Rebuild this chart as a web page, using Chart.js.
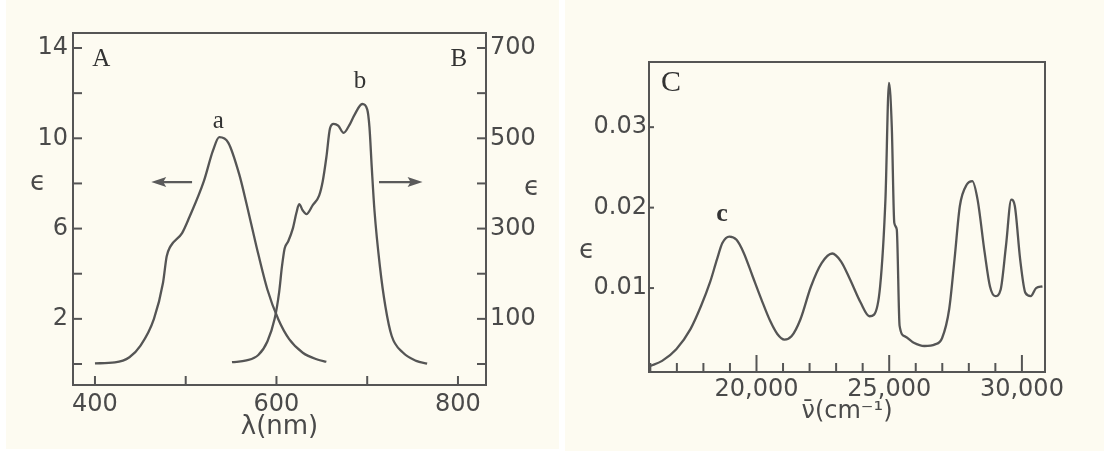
<!DOCTYPE html>
<html>
<head>
<meta charset="utf-8">
<script src="https://cdn.jsdelivr.net/npm/chart.js@4.4.0/dist/chart.umd.min.js"></script>
<style>
  html, body { margin: 0; padding: 0; background: #ffffff; }
  body { width: 1104px; height: 451px; position: relative; overflow: hidden; }
  .panel { position: absolute; top: 0; background: #fdfbf1; }
  #pLeft { left: 6px; width: 553px; height: 449px; }
  #pRight { left: 565px; width: 539px; height: 451px; }
  canvas { display: block; }
</style>
</head>
<body>
<div class="panel" id="pLeft"><canvas id="chartAB" width="553" height="451"></canvas></div>
<div class="panel" id="pRight"><canvas id="chartC" width="539" height="451"></canvas></div>
<script>
// panel A/B : wavelength (nm) vs epsilon
const lambdaA = [400, 422, 438, 450, 465, 475, 479, 483, 496, 504, 520, 530, 537, 547, 559, 567, 578, 590, 602, 614, 629, 645, 655];
const epsA    = [0.03, 0.07, 0.3, 0.8, 2.0, 3.6, 4.76, 5.2, 5.8, 6.5, 8.1, 9.45, 10.05, 9.8, 8.4, 7.1, 5.2, 3.3, 1.98, 1.1, 0.5, 0.2, 0.1];

const lambdaB = [551, 567, 580, 590, 598, 603, 606, 609, 613, 618, 622, 625, 629, 633, 640, 647, 651, 655, 659, 663, 668, 674, 680, 686, 694.5, 700, 702.5, 705, 708, 714, 720, 727, 739, 754, 766];
const epsB    = [4, 8, 20, 50, 100, 160, 215, 256, 272, 300, 335, 354, 340, 332, 352, 373, 405, 458, 522, 532, 528, 512, 528, 552, 576, 564, 524, 436, 340, 216, 128, 62, 26, 7, 1];

const ticksLeftY  = [0, 2, 4, 6, 8, 10, 12, 14];
const labelsLeftY = [2, 6, 10, 14];
const ticksRightY = [0, 100, 200, 300, 400, 500, 600, 700];
const labelsRightY = [100, 300, 500, 700];
const ticksLambda = [400, 500, 600, 700, 800];
const labelsLambda = [400, 600, 800];

// panel C : wavenumber (cm-1) vs epsilon
const nuC  = [15977, 16444, 16978, 17512, 17913, 18247, 18514, 18714, 18981, 19248, 19516, 19850, 20184, 20518, 20785, 21052, 21319, 21653, 22053, 22454, 22854, 23188, 23522, 23923, 24257, 24431, 24658, 24858, 24992, 25098, 25192, 25285, 25392, 25592, 25926, 26327, 26727, 26994, 27261, 27462, 27662, 27929, 28130, 28330, 28597, 28797, 28998, 29198, 29398, 29599, 29733, 29933, 30133, 30334, 30534, 30774];
const epsC = [0.0003, 0.00095, 0.0024, 0.0049, 0.0078, 0.0107, 0.0136, 0.0156, 0.0164, 0.016, 0.0144, 0.0115, 0.0086, 0.0059, 0.0043, 0.0036, 0.004, 0.0061, 0.0102, 0.0131, 0.0143, 0.0133, 0.0111, 0.0082, 0.0065, 0.0067, 0.0102, 0.021, 0.0355, 0.030, 0.0181, 0.0173, 0.0053, 0.004, 0.0032, 0.0028, 0.003, 0.0038, 0.0074, 0.0136, 0.0202, 0.0229, 0.0233, 0.021, 0.0144, 0.0102, 0.009, 0.0098, 0.0152, 0.021, 0.0202, 0.0136, 0.0094, 0.009, 0.01, 0.0102];

const ticksNu  = [16000, 17000, 18000, 19000, 20000, 21000, 22000, 23000, 24000, 25000, 26000, 27000, 28000, 29000, 30000];
const labelsNu = [20000, 25000, 30000];
const ticksEpsC = [0.01, 0.02, 0.03];

const ink = '#555555';
const textInk = '#4a4a4a';
const tickFont = { family: 'DejaVu Sans', size: 24 };
const serif = 'Liberation Serif';

function pts(xs, ys) { return xs.map((x, i) => ({ x: x, y: ys[i] })); }
function setTicks(vals) { return s => { s.ticks = vals.map(v => ({ value: v })); }; }
function fixW(w) { return s => { s.width = w; }; }
function fixH(h) { return s => { s.height = h; }; }

function drawFrame(chart, specs) {
  const { ctx, chartArea: a } = chart;
  ctx.save();
  ctx.strokeStyle = ink;
  ctx.lineWidth = 2;
  ctx.strokeRect(a.left, a.top, a.right - a.left, a.bottom - a.top);
  specs.forEach(sp => {
    const sc = chart.scales[sp.id];
    sp.values.forEach(v => {
      const p = sc.getPixelForValue(v);
      const len = (sp.major && sp.major.includes(v)) ? sp.majorLen : sp.len;
      ctx.beginPath();
      if (sp.edge === 'left') { ctx.moveTo(a.left, p); ctx.lineTo(a.left + len, p); }
      if (sp.edge === 'right') { ctx.moveTo(a.right, p); ctx.lineTo(a.right - len, p); }
      if (sp.edge === 'bottom') { ctx.moveTo(p, a.bottom); ctx.lineTo(p, a.bottom - len); }
      ctx.stroke();
    });
  });
  ctx.restore();
}

function drawTexts(chart, items) {
  const ctx = chart.ctx;
  ctx.save();
  ctx.textBaseline = 'middle';
  items.forEach(t => {
    ctx.font = t.font;
    ctx.fillStyle = '#333333';
    ctx.textAlign = 'center';
    const sx = chart.scales[t.xs], sy = chart.scales[t.ys];
    ctx.fillText(t.text, sx.getPixelForValue(t.x), sy.getPixelForValue(t.y));
  });
  ctx.restore();
}

function drawArrow(chart, ar) {
  const ctx = chart.ctx;
  const sx = chart.scales.x, sy = chart.scales.y;
  const x1 = sx.getPixelForValue(ar.from), x2 = sx.getPixelForValue(ar.to);
  const y = sy.getPixelForValue(ar.y);
  const dir = Math.sign(x2 - x1);
  ctx.save();
  ctx.strokeStyle = '#5a5a5a';
  ctx.fillStyle = '#5a5a5a';
  ctx.lineWidth = 2.2;
  ctx.beginPath();
  ctx.moveTo(x1, y); ctx.lineTo(x2 - dir * 8, y);
  ctx.stroke();
  ctx.beginPath();
  ctx.moveTo(x2, y);
  ctx.lineTo(x2 - dir * 15, y - 5);
  ctx.lineTo(x2 - dir * 12, y);
  ctx.lineTo(x2 - dir * 15, y + 5);
  ctx.closePath();
  ctx.fill();
  ctx.restore();
}

const arrowsAB = [{ from: 507, to: 462, y: 8.06 }, { from: 713, to: 761, y: 8.06 }];
const textsAB = [
  { text: 'A', x: 407, y: 13.5, xs: 'x', ys: 'y', font: '25px ' + serif },
  { text: 'B', x: 801, y: 13.5, xs: 'x', ys: 'y', font: '25px ' + serif },
  { text: 'a', x: 536, y: 10.75, xs: 'x', ys: 'y', font: '25px ' + serif },
  { text: 'b', x: 692, y: 12.5, xs: 'x', ys: 'y', font: '25px ' + serif }
];
const textsC = [
  { text: 'C', x: 16780, y: 0.0355, xs: 'x', ys: 'y', font: '30px ' + serif },
  { text: 'c', x: 18700, y: 0.0192, xs: 'x', ys: 'y', font: 'bold 26px ' + serif }
];

const decorAB = {
  id: 'decorAB',
  afterDatasetsDraw(chart) {
    drawFrame(chart, [
      { id: 'y', edge: 'left', values: ticksLeftY, len: 9 },
      { id: 'y2', edge: 'right', values: ticksRightY, len: 9 },
      { id: 'x', edge: 'bottom', values: ticksLambda, len: 9 }
    ]);
    arrowsAB.forEach(a => drawArrow(chart, a));
    drawTexts(chart, textsAB);
    const ctx = chart.ctx, a = chart.chartArea, sy = chart.scales.y;
    ctx.save();
    ctx.fillStyle = textInk;
    ctx.font = '26px DejaVu Sans';
    ctx.textAlign = 'center';
    ctx.textBaseline = 'middle';
    ctx.fillText('ϵ', a.left - 35, sy.getPixelForValue(8));
    ctx.fillText('ϵ', a.right + 46, sy.getPixelForValue(7.8));
    ctx.restore();
  }
};

const decorC = {
  id: 'decorC',
  afterDatasetsDraw(chart) {
    drawFrame(chart, [
      { id: 'y', edge: 'left', values: ticksEpsC, len: 5 },
      { id: 'x', edge: 'bottom', values: ticksNu, len: 9, major: labelsNu, majorLen: 17 }
    ]);
    drawTexts(chart, textsC);
    const ctx = chart.ctx, a = chart.chartArea, sy = chart.scales.y;
    ctx.save();
    ctx.fillStyle = textInk;
    ctx.font = '26px DejaVu Sans';
    ctx.textAlign = 'center';
    ctx.textBaseline = 'middle';
    ctx.fillText('ϵ', a.left - 62, sy.getPixelForValue(0.0146));
    ctx.restore();
  }
};

const lineStyle = { borderColor: ink, borderWidth: 2.3, pointRadius: 0, fill: false, cubicInterpolationMode: 'monotone' };
const noGrid = { display: false, drawTicks: false };

new Chart(document.getElementById('chartAB'), {
  type: 'line',
  data: {
    datasets: [
      Object.assign({ label: 'a', data: pts(lambdaA, epsA), yAxisID: 'y' }, lineStyle),
      Object.assign({ label: 'b', data: pts(lambdaB, epsB), yAxisID: 'y2' }, lineStyle)
    ]
  },
  options: {
    responsive: false,
    animation: false,
    layout: { padding: { top: 33, left: 0, right: 0, bottom: 0 } },
    plugins: { legend: { display: false }, tooltip: { enabled: false } },
    scales: {
      x: {
        type: 'linear', min: 375.8, max: 830.9,
        grid: noGrid, border: { display: false },
        afterBuildTicks: setTicks(ticksLambda), afterFit: fixH(66),
        ticks: { color: textInk, font: tickFont, padding: 5, maxRotation: 0, autoSkip: false,
          callback: v => labelsLambda.includes(v) ? String(v) : '' },
        title: { display: true, text: 'λ(nm)', color: textInk, font: { family: 'DejaVu Sans', size: 26 }, padding: { top: 0, bottom: 8 } }
      },
      y: {
        type: 'linear', position: 'left', min: -0.93, max: 14.665,
        grid: noGrid, border: { display: false },
        afterBuildTicks: setTicks(ticksLeftY), afterFit: fixW(67),
        ticks: { color: textInk, font: tickFont, padding: 5, autoSkip: false,
          callback: v => labelsLeftY.includes(v) ? String(v) : '' }
      },
      y2: {
        type: 'linear', position: 'right', min: -46.5, max: 733.25,
        grid: noGrid, border: { display: false },
        afterBuildTicks: setTicks(ticksRightY), afterFit: fixW(73),
        ticks: { color: textInk, font: tickFont, padding: 4, autoSkip: false,
          callback: v => labelsRightY.includes(v) ? String(v) : '' }
      }
    }
  },
  plugins: [decorAB]
});

new Chart(document.getElementById('chartC'), {
  type: 'line',
  data: {
    datasets: [
      Object.assign({ label: 'c', data: pts(nuC, epsC), yAxisID: 'y' }, lineStyle)
    ]
  },
  options: {
    responsive: false,
    animation: false,
    layout: { padding: { top: 62, left: 0, right: 59, bottom: 0 } },
    plugins: { legend: { display: false }, tooltip: { enabled: false } },
    scales: {
      x: {
        type: 'linear', min: 15950, max: 30870,
        grid: noGrid, border: { display: false },
        afterBuildTicks: setTicks(ticksNu), afterFit: fixH(79),
        ticks: { color: textInk, font: tickFont, padding: 3, maxRotation: 0, autoSkip: false,
          callback: v => labelsNu.includes(v) ? v.toLocaleString('en-US') : '' },
        title: { display: true, text: 'ν̄(cm⁻¹)', color: textInk, font: { family: 'DejaVu Sans', size: 24 }, padding: { top: 0, bottom: 25 } }
      },
      y: {
        type: 'linear', position: 'left', min: -0.00043, max: 0.0381,
        grid: noGrid, border: { display: false },
        afterBuildTicks: setTicks(ticksEpsC), afterFit: fixW(84),
        ticks: { color: textInk, font: tickFont, padding: 2, autoSkip: false,
          callback: v => v.toFixed(2) }
      }
    }
  },
  plugins: [decorC]
});
</script>
</body>
</html>
